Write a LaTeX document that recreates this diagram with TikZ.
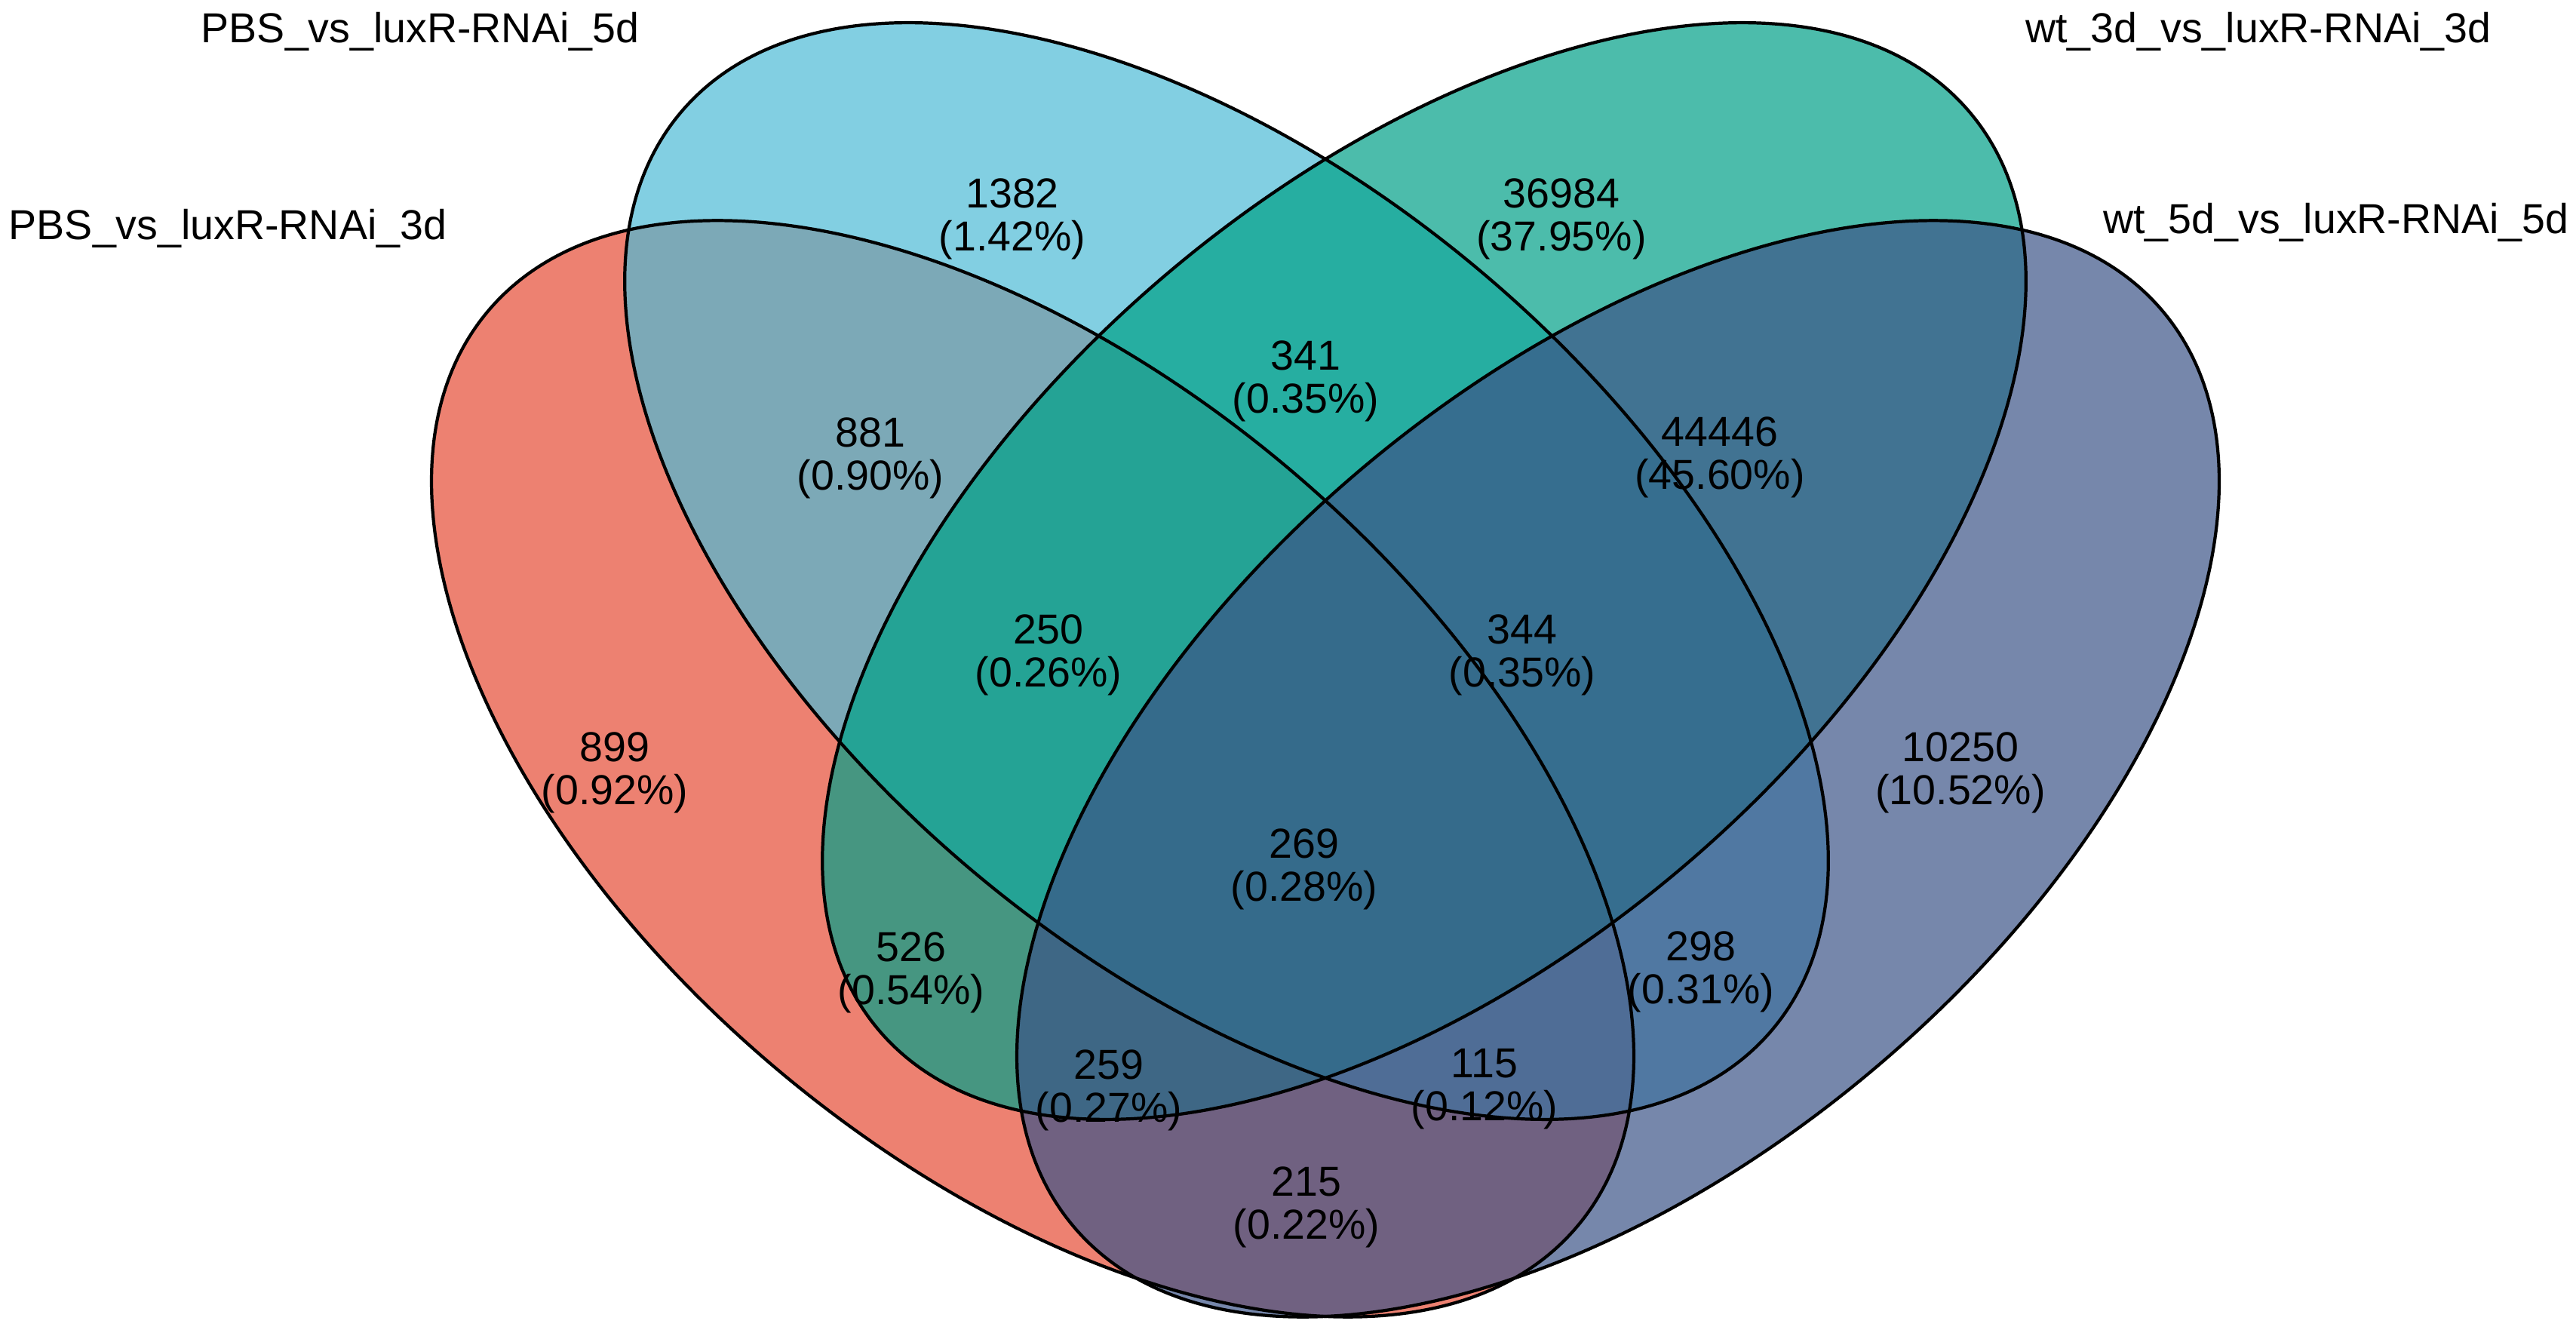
\documentclass[tikz,border=0pt]{standalone}
\usepackage{fontspec}
\setmainfont{Liberation Sans}
\usepackage{tikz}

\definecolor{npgred}{HTML}{E64B35}
\definecolor{npgblue}{HTML}{4DBBD5}
\definecolor{npggreen}{HTML}{00A087}
\definecolor{npgnavy}{HTML}{3C5488}

\begin{document}
\begin{tikzpicture}[venn fill/.style={fill=#1, fill opacity=0.7}, venn line/.style={draw=black, line width=1.2pt}, count/.style={align=center, font=\fontsize{15.8}{16.2}\selectfont}, set name/.style={anchor=base, font=\fontsize{15.8}{16.2}\selectfont}]
\useasboundingbox (0,0) rectangle (34.15,17.66);

\coordinate (A) at (13.69,7.47);
\coordinate (B) at (16.26,10.09);
\coordinate (C) at (18.88,10.09);
\coordinate (D) at (21.45,7.47);

\fill [venn fill=npgred, rotate around={-40:(A)}] (A) ellipse [x radius=9.43, y radius=5.23];
\fill [venn fill=npgblue, rotate around={-40:(B)}] (B) ellipse [x radius=9.45, y radius=5.21];
\fill [venn fill=npggreen, rotate around={40:(C)}] (C) ellipse [x radius=9.45, y radius=5.21];
\fill [venn fill=npgnavy, rotate around={40:(D)}] (D) ellipse [x radius=9.43, y radius=5.23];

\draw [venn line, rotate around={-40:(A)}] (A) ellipse [x radius=9.43, y radius=5.23];
\draw [venn line, rotate around={-40:(B)}] (B) ellipse [x radius=9.45, y radius=5.21];
\draw [venn line, rotate around={40:(C)}] (C) ellipse [x radius=9.45, y radius=5.21];
\draw [venn line, rotate around={40:(D)}] (D) ellipse [x radius=9.43, y radius=5.23];

\node [set name] (la) at (3.02,14.48) {PBS\_vs\_luxR-RNAi\_3d};
\node [set name] (lb) at (5.57,17.09) {PBS\_vs\_luxR-RNAi\_5d};
\node [set name] (lc) at (29.94,17.09) {wt\_3d\_vs\_luxR-RNAi\_3d};
\node [set name] (ld) at (30.97,14.56) {wt\_5d\_vs\_luxR-RNAi\_5d};

\node [count] (a) at (8.15,7.42) {899\\(0.92\%)};
\node [count] (b) at (13.42,14.76) {1382\\(1.42\%)};
\node [count] (c) at (20.70,14.76) {36984\\(37.95\%)};
\node [count] (d) at (25.99,7.42) {10250\\(10.52\%)};
\node [count] (ab) at (11.54,11.59) {881\\(0.90\%)};
\node [count] (bc) at (17.31,12.61) {341\\(0.35\%)};
\node [count] (cd) at (22.80,11.60) {44446\\(45.60\%)};
\node [count] (abc) at (13.90,8.98) {250\\(0.26\%)};
\node [count] (bcd) at (20.18,8.98) {344\\(0.35\%)};
\node [count] (abcd) at (17.29,6.14) {269\\(0.28\%)};
\node [count] (ac) at (12.08,4.77) {526\\(0.54\%)};
\node [count] (bd) at (22.55,4.78) {298\\(0.31\%)};
\node [count] (acd) at (14.70,3.21) {259\\(0.27\%)};
\node [count] (abd) at (19.68,3.22) {115\\(0.12\%)};
\node [count] (ad) at (17.32,1.66) {215\\(0.22\%)};
\end{tikzpicture}
\end{document}
